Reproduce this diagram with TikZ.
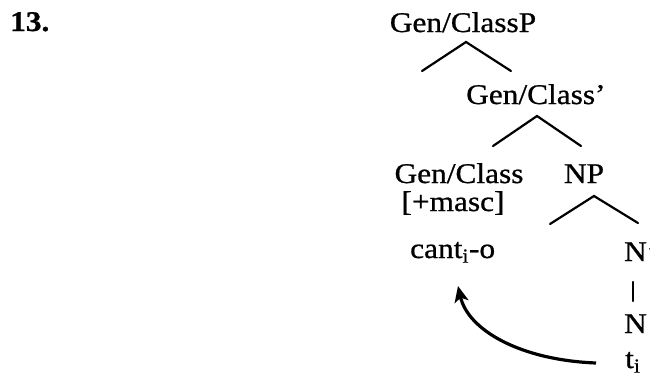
\documentclass[tikz,border=0pt]{standalone}
\usepackage{fontspec}
\setmainfont[FakeStretch=1.1,FakeBold=0.8]{Liberation Serif}
\usetikzlibrary{arrows.meta}
\begin{document}
\begin{tikzpicture}[x=1pt,y=-1pt,
  lbl/.style={inner sep=0pt, anchor=base, font=\fontsize{28.5}{34}\selectfont},
  lblw/.style={lbl, anchor=base west},
  branch/.style={line width=2.2pt, line cap=round},
  move/.style={line width=3.2pt, -{Stealth[length=16pt,width=14pt,inset=4pt]}}]
\useasboundingbox (0,0) rectangle (650,376);
\clip (0,0) rectangle (650,376);
\fill[white] (0,0) rectangle (650,376);

% example number
\node[lblw, font=\fontsize{28.5}{34}\selectfont\bfseries] (num) at (10,31) {13.};

% tree labels
\node[lbl]  (root)  at (463,32)  {Gen/ClassP};
\node[lblw] (bar1)  at (466,104) {Gen/Class’};
\node[lbl]  (head)  at (459,183) {Gen/Class};
\node[lbl]  (np)    at (584,183) {NP};
\node[lbl]  (feat)  at (453,211) {[+masc]};
\node[lblw] (cant)  at (410,258) {cant\textsubscript{i}-o};
\node[lblw] (nbar)  at (624,261) {N’};
\node[lblw] (n)     at (624,333) {N};
\node[lblw] (t)     at (625,368) {t\textsubscript{i}};

% branch points
\coordinate (r)  at (466,42);  \coordinate (rl) at (422,71);  \coordinate (rr) at (511,71);
\coordinate (b)  at (537,116); \coordinate (bl) at (493,146); \coordinate (br) at (581,146);
\coordinate (p)  at (594,196); \coordinate (pl) at (550,224); \coordinate (pr) at (638,223);
\coordinate (vt) at (633,282); \coordinate (vb) at (633,301);

\draw[branch] (rl) -- (r) -- (rr);
\draw[branch] (bl) -- (b) -- (br);
\draw[branch] (pl) -- (p) -- (pr);
\draw[branch] (vt) -- (vb);

% head movement
\coordinate (tail) at (596,363);
\coordinate (land) at (458,286);
\draw[move] (tail) .. controls (520,360) and (468,330) .. (land);
\end{tikzpicture}
\end{document}
